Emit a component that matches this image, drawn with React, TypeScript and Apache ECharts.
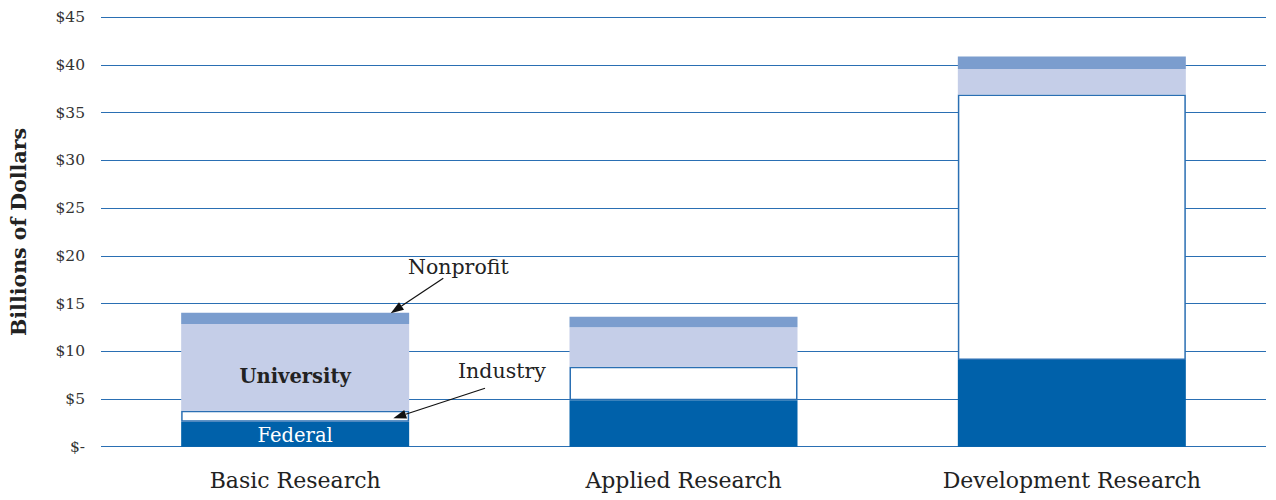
import React, { useEffect, useRef } from "react";
import * as echarts from "echarts";

const categories = ["Basic Research", "Applied Research", "Development Research"];
const federal = [2.62, 4.86, 9.09];
const industry = [1.15, 3.53, 27.81];
const university = [9.09, 4.13, 2.69];
const nonprofit = [1.19, 1.11, 1.29];

const FONT = "DejaVu Serif";

function arrow(sx: number, sy: number, tx: number, ty: number) {
  const dx = tx - sx;
  const dy = ty - sy;
  const len = Math.sqrt(dx * dx + dy * dy);
  const ux = dx / len;
  const uy = dy / len;
  const hl = 13;
  const hw = 4.5;
  const bx = tx - ux * hl;
  const by = ty - uy * hl;
  const px = -uy * hw;
  const py = ux * hw;
  return [
    {
      type: "line",
      z: 100,
      shape: { x1: sx, y1: sy, x2: bx, y2: by },
      style: { stroke: "#111", lineWidth: 1.2 },
    },
    {
      type: "polygon",
      z: 100,
      shape: {
        points: [
          [tx, ty],
          [bx + px, by + py],
          [bx - px, by - py],
        ],
      },
      style: { fill: "#111" },
    },
  ];
}

export default function App() {
  const ref = useRef<HTMLDivElement>(null);
  useEffect(() => {
    document.body.style.margin = "0";
    if (!ref.current) return;
    const chart = echarts.init(ref.current, null, { renderer: "svg" });
    const barWidth = 228;
    chart.setOption({
      animation: false,
      grid: { left: 100, right: 10, top: 17.3, bottom: 53.3 },
      xAxis: {
        type: "category",
        data: categories,
        axisLine: { show: false },
        axisTick: { show: false },
        axisLabel: {
          fontFamily: FONT,
          fontSize: 22,
          color: "#222",
          margin: 23,
        },
      },
      yAxis: {
        type: "value",
        min: 0,
        max: 45,
        interval: 5,
        name: "Billions of Dollars",
        nameLocation: "middle",
        nameGap: 72,
        nameTextStyle: {
          fontFamily: FONT,
          fontSize: 20.5,
          fontWeight: "bold",
          color: "#222",
        },
        axisLine: { show: false },
        axisTick: { show: false },
        splitLine: { lineStyle: { color: "#2a6fb3", width: 1.2 } },
        axisLabel: {
          fontFamily: FONT,
          fontSize: 15.5,
          color: "#333",
          margin: 16,
          formatter: (v: number) => (v === 0 ? "$-" : "$" + v),
        },
      },
      series: [
        {
          name: "Federal",
          type: "bar",
          stack: "total",
          barWidth,
          itemStyle: { color: "#0061aa" },
          data: federal.map((v, i) =>
            i === 0
              ? {
                  value: v,
                  label: {
                    show: true,
                    position: "inside",
                    formatter: "Federal",
                    color: "#fff",
                    fontFamily: FONT,
                    fontSize: 19.5,
                    offset: [0, 1],
                  },
                }
              : v
          ),
        },
        {
          name: "Industry",
          type: "bar",
          stack: "total",
          barWidth,
          itemStyle: { color: "#ffffff", borderColor: "#2a6fb3", borderWidth: 1.5 },
          data: industry,
        },
        {
          name: "University",
          type: "bar",
          stack: "total",
          barWidth,
          itemStyle: { color: "#c5cee8" },
          data: university.map((v, i) =>
            i === 0
              ? {
                  value: v,
                  label: {
                    show: true,
                    position: "inside",
                    formatter: "University",
                    color: "#222",
                    fontFamily: FONT,
                    fontSize: 19.5,
                    fontWeight: "bold",
                    offset: [0, 9],
                  },
                }
              : v
          ),
        },
        {
          name: "Nonprofit",
          type: "bar",
          stack: "total",
          barWidth,
          itemStyle: { color: "#7b9dce" },
          data: nonprofit,
        },
      ],
      graphic: [
        {
          type: "text",
          z: 100,
          left: 408,
          top: 256,
          style: { text: "Nonprofit", font: `20.5px "${FONT}"`, fill: "#222" },
        },
        {
          type: "text",
          z: 100,
          left: 458,
          top: 360,
          style: { text: "Industry", font: `20.5px "${FONT}"`, fill: "#222" },
        },
        ...arrow(443.3, 278.3, 390.7, 313.3),
        ...arrow(485, 388.3, 393.3, 418.3),
      ],
    });
    return () => chart.dispose();
  }, []);
  return <div ref={ref} style={{ width: 1276, height: 500 }} />;
}
